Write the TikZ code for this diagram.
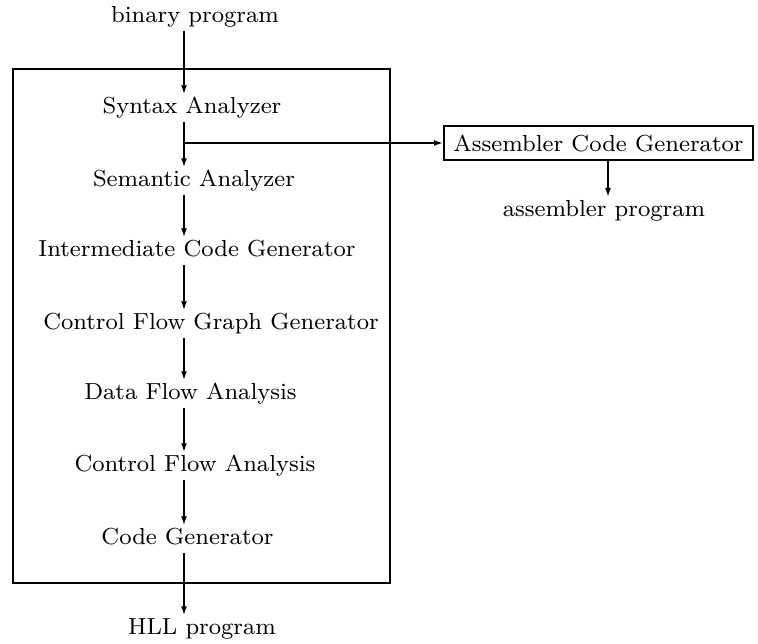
\documentclass[tikz,border=0pt]{standalone}
\usepackage{graphicx}
\usetikzlibrary{arrows.meta}
\newcommand\lbltext[1]{\scalebox{2.9}{\fontsize{8}{9.5}\selectfont #1}}
\begin{document}
\begin{tikzpicture}[x=1pt,y=-1pt,
  lbl/.style={inner xsep=2pt, inner ysep=3pt, text height=16pt, text depth=5pt},
  flow/.style={line width=2.6pt, -{Latex[length=9pt,width=6pt]}},
  thin/.style={line width=1.8pt, -{Latex[length=9pt,width=6pt]}}]
\useasboundingbox (0,0) rectangle (758,644);
\node[draw, line width=2.6pt, minimum width=377pt, minimum height=514pt] (box) at (201.5,326) {};
\coordinate (ax) at (184,0);
\node[lbl] (bin) at (195,17) {\lbltext{binary program}};
\node[lbl] (syn) at (192,108) {\lbltext{Syntax Analyzer}};
\node[lbl] (sem) at (194,181) {\lbltext{Semantic Analyzer}};
\node[lbl] (int) at (197,251) {\lbltext{Intermediate Code Generator}};
\node[lbl] (cfg) at (211,324) {\lbltext{Control Flow Graph Generator}};
\node[lbl] (dfa) at (190.5,394) {\lbltext{Data Flow Analysis}};
\node[lbl] (cfa) at (195,466) {\lbltext{Control Flow Analysis}};
\node[lbl] (cg) at (187.5,539) {\lbltext{Code Generator}};
\node[lbl] (hll) at (202,629) {\lbltext{HLL program}};
\node[draw, line width=1.8pt, minimum width=309pt, minimum height=34pt, inner sep=0pt] (asm) at (598.5,143) {\lbltext{Assembler Code Generator}};
\node[lbl] (asp) at (604,211) {\lbltext{assembler program}};
\coordinate (br) at (184,143);
\coordinate (ae) at (608,197);
\draw[flow] (bin.south -| ax) -- (syn.north -| ax);
\draw[flow] (syn.south -| ax) -- (sem.north -| ax);
\draw[flow] (sem.south -| ax) -- (int.north -| ax);
\draw[flow] (int.south -| ax) -- (cfg.north -| ax);
\draw[flow] (cfg.south -| ax) -- (dfa.north -| ax);
\draw[flow] (dfa.south -| ax) -- (cfa.north -| ax);
\draw[flow] (cfa.south -| ax) -- (cg.north -| ax);
\draw[flow] (cg.south -| ax) -- (hll.north -| ax);
\draw[thin] (br) -- (asm.west |- br);
\draw[thin] (asm.south -| ae) -- (ae);
\end{tikzpicture}
\end{document}
